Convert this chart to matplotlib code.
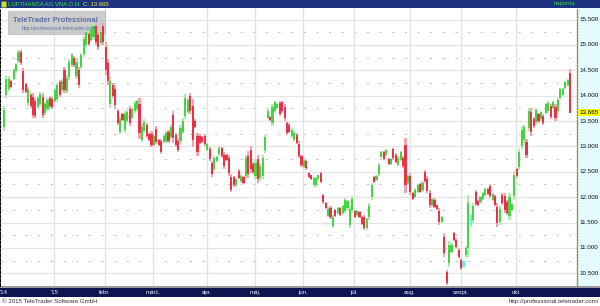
import numpy as np
import matplotlib
matplotlib.use('Agg')
import matplotlib.pyplot as plt
from matplotlib.patches import Rectangle
from matplotlib.transforms import blended_transform_factory

plt.rcParams['font.family'] = ['Liberation Sans', 'DejaVu Sans']

# daily candles, Dec 2014 - Oct 2015
opens = [13.38,14.02,14.14,14.28,14.33,14.48,14.68,14.86,14.48,14.22,
         13.86,14.01,13.98,13.90,13.78,13.84,13.98,13.66,13.73,13.96,
         13.94,13.89,13.93,14.26,14.11,14.50,14.10,14.36,14.61,14.75,
         14.39,14.51,14.57,14.83,15.00,15.21,15.09,15.15,15.37,15.20,
         15.04,15.37,14.96,14.64,13.84,14.21,14.13,13.69,13.29,13.63,
         13.33,13.50,13.74,13.56,13.69,13.73,13.84,13.13,13.31,13.42,
         13.25,13.25,13.03,13.35,13.12,13.10,13.09,13.10,13.29,13.18,
         13.61,13.23,13.10,13.10,13.29,13.60,13.68,13.99,13.79,13.51,
         13.20,13.21,13.18,13.20,12.92,12.94,12.67,12.56,12.71,12.85,
         12.96,12.83,12.83,12.78,12.40,12.39,12.23,12.52,12.31,12.40,
         12.42,12.82,12.92,12.66,12.41,12.76,12.37,12.42,12.92,13.56,
         13.58,13.46,13.69,13.75,13.86,13.87,13.78,13.46,13.43,13.20,
         13.13,13.23,13.05,12.81,12.60,12.71,12.48,12.43,12.23,12.23,
         12.35,12.47,12.04,11.88,11.63,11.79,11.44,11.75,11.68,11.78,
         11.68,11.73,11.78,11.45,11.74,11.73,11.64,11.70,11.60,11.61,
         11.39,11.60,12.00,12.39,12.33,12.45,12.79,12.89,12.83,12.75,
         12.66,12.94,12.84,12.64,12.74,12.78,13.02,12.28,12.42,12.09,
         12.01,12.10,12.25,12.14,12.50,12.36,12.09,11.84,11.95,11.84,
         11.73,11.51,11.22,10.52,10.70,10.92,11.29,11.16,10.96,10.77,
         10.62,10.86,11.00,11.46,11.55,12.10,11.93,11.90,11.97,12.04,
         12.16,12.21,11.94,12.02,11.81,11.51,12.05,12.02,11.91,11.63,
         11.74,12.03,12.55,12.60,13.01,13.12,13.09,13.37,13.68,13.54,
         13.48,13.63,13.53,13.60,13.66,13.70,13.79,13.75,13.78,13.70,
         13.96,14.01,14.15,14.21,14.45]
closes = [13.72,14.32,14.33,14.18,14.51,14.62,14.86,14.64,14.12,14.08,
          14.13,13.79,13.62,13.60,13.96,14.04,13.62,13.84,13.91,13.79,
          13.78,14.11,14.20,14.02,14.29,14.12,14.35,14.66,14.81,14.60,
          14.66,14.21,14.80,15.12,15.25,15.02,15.29,15.38,15.06,14.95,
          15.26,15.06,14.50,14.28,14.29,13.99,13.82,13.47,13.54,13.52,
          13.64,13.68,13.46,13.73,13.86,13.89,13.26,13.39,13.49,13.21,
          13.12,13.03,13.20,13.09,13.02,12.89,13.21,13.27,13.11,13.39,
          13.16,13.02,12.92,13.37,13.51,13.96,13.91,13.69,13.12,13.39,
          12.89,13.07,13.09,13.04,13.05,12.76,12.45,12.78,12.80,12.97,
          12.81,12.61,12.74,12.47,12.15,12.23,12.35,12.38,12.42,12.27,
          12.77,12.46,12.56,12.49,12.68,12.36,12.62,12.77,13.18,13.70,
          13.52,13.77,13.87,13.84,13.64,13.69,13.55,13.27,13.29,13.33,
          13.27,13.07,12.82,12.63,12.74,12.57,12.39,12.35,12.37,12.37,
          12.43,12.30,11.90,11.79,11.77,11.61,11.60,11.62,11.78,11.65,
          11.82,11.94,11.92,11.76,11.97,11.61,11.73,11.61,11.48,11.40,
          11.56,11.83,12.23,12.30,12.42,12.63,12.89,12.76,12.92,12.66,
          12.75,12.77,12.70,12.78,12.88,12.61,12.23,12.41,12.11,11.97,
          12.15,12.23,12.11,12.28,12.32,12.13,11.84,11.96,11.81,11.76,
          11.51,11.60,10.90,10.31,11.06,11.06,11.16,11.02,10.83,10.60,
          10.74,11.00,11.88,11.65,11.82,11.87,11.84,12.00,12.09,12.16,
          12.07,12.02,12.06,11.85,11.49,11.77,11.88,11.75,11.69,12.00,
          11.86,12.43,12.41,12.88,13.33,13.38,12.83,13.69,13.28,13.40,
          13.71,13.50,13.67,13.46,13.83,13.86,13.57,13.88,13.55,13.92,
          14.13,14.14,14.27,14.30,13.665]
highs = [13.80,14.39,14.38,14.30,14.55,14.65,14.90,14.90,14.55,14.25,
         14.18,14.05,14.05,13.95,14.00,14.08,14.05,13.88,13.95,14.00,
         13.98,14.15,14.25,14.30,14.33,14.57,14.40,14.72,14.85,14.78,
         14.72,14.57,14.85,15.18,15.30,15.25,15.33,15.43,15.43,15.25,
         15.30,15.43,15.05,14.72,14.38,14.25,14.20,13.73,13.59,13.65,
         13.70,13.72,13.80,13.76,13.90,13.92,13.96,13.44,13.53,13.46,
         13.27,13.30,13.24,13.40,13.14,13.14,13.24,13.30,13.33,13.43,
         13.70,13.27,13.14,13.43,13.56,14.03,13.96,14.05,13.93,13.53,
         13.27,13.24,13.20,13.24,13.07,12.98,12.72,12.82,12.82,13.00,
         12.99,12.88,12.85,12.84,12.45,12.42,12.38,12.55,12.45,12.42,
         12.84,12.90,13.00,12.70,12.74,12.84,12.67,12.84,13.23,13.73,
         13.60,13.83,13.90,13.86,13.90,13.90,13.83,13.50,13.46,13.36,
         13.30,13.26,13.10,12.84,12.77,12.74,12.50,12.44,12.40,12.40,
         12.44,12.50,12.07,11.90,11.80,11.83,11.64,11.77,11.80,11.80,
         11.85,11.98,11.95,11.82,12.02,11.75,11.75,11.72,11.62,11.65,
         11.59,11.88,12.28,12.41,12.44,12.67,12.91,12.91,12.94,12.77,
         12.77,12.97,12.87,12.81,12.91,12.81,13.17,12.44,12.48,12.11,
         12.18,12.25,12.28,12.31,12.54,12.41,12.15,11.98,11.98,11.85,
         11.78,11.62,11.29,10.57,11.13,11.09,11.32,11.19,10.99,10.80,
         10.76,11.03,12.05,11.69,11.88,12.15,11.95,12.02,12.11,12.18,
         12.18,12.25,12.08,12.05,11.88,11.82,12.08,12.08,11.95,12.08,
         11.88,12.51,12.58,12.94,13.40,13.43,13.14,13.76,13.76,13.57,
         13.76,13.66,13.70,13.63,13.86,13.90,13.83,13.90,13.83,13.96,
         14.16,14.16,14.29,14.32,14.52]
lows = [13.30,13.96,14.10,14.15,14.30,14.45,14.65,14.60,14.05,14.05,
        13.80,13.75,13.55,13.55,13.75,13.80,13.55,13.62,13.70,13.75,
        13.75,13.85,13.88,13.98,14.08,14.05,14.05,14.30,14.57,14.57,
        14.33,14.15,14.52,14.77,14.95,14.98,15.05,15.10,15.00,14.90,
        15.00,15.00,14.40,14.20,13.75,13.95,13.75,13.43,13.24,13.50,
        13.27,13.47,13.40,13.53,13.66,13.70,13.14,13.08,13.27,13.17,
        13.10,12.98,13.00,13.04,13.00,12.85,13.07,13.07,13.07,13.14,
        13.07,12.98,12.88,13.04,13.24,13.53,13.63,13.63,12.98,13.37,
        12.82,13.04,13.07,13.00,12.90,12.72,12.40,12.52,12.69,12.82,
        12.78,12.56,12.72,12.41,12.10,12.20,12.20,12.35,12.28,12.25,
        12.35,12.38,12.48,12.45,12.35,12.28,12.32,12.35,12.87,13.53,
        13.50,13.40,13.66,13.73,13.60,13.66,13.50,13.23,13.26,13.17,
        13.10,13.04,12.77,12.60,12.57,12.54,12.37,12.34,12.20,12.20,
        12.34,12.27,11.87,11.77,11.60,11.57,11.40,11.60,11.66,11.63,
        11.65,11.69,11.75,11.39,11.69,11.59,11.62,11.59,11.46,11.36,
        11.36,11.55,11.95,12.28,12.31,12.41,12.77,12.74,12.81,12.64,
        12.64,12.74,12.67,12.61,12.71,12.58,12.08,12.25,12.05,11.95,
        11.98,12.08,12.08,12.11,12.28,12.08,11.78,11.82,11.78,11.75,
        11.46,11.49,10.83,10.27,10.63,10.89,11.13,10.99,10.80,10.57,
        10.60,10.83,10.83,11.42,11.49,11.82,11.82,11.88,11.95,12.02,
        12.05,11.98,11.92,11.82,11.42,11.46,11.85,11.69,11.65,11.55,
        11.72,11.95,12.38,12.54,12.94,13.07,12.78,13.30,13.20,13.37,
        13.43,13.47,13.50,13.43,13.63,13.66,13.53,13.73,13.50,13.66,
        13.93,13.99,14.13,14.19,13.66]
cyan_bars = [190, 193]

month_labels = ["'14", "'15", 'febr.', 'márc.', 'ápr.', 'máj.', 'jún.',
                'júl.', 'aug.', 'szept.', 'okt.']
month_start = [0, 21, 42, 62, 84, 104, 124, 145, 168, 189, 212]
price_ticks = [10.5, 11.0, 11.5, 12.0, 12.5, 13.0, 13.5, 14.0, 14.5, 15.0, 15.5]
last_price = 13.665

W, H = 600, 306
fig = plt.figure(figsize=(W / 100, H / 100), dpi=100)


def fx(px):
    return px / W


def fy(py):
    return 1 - py / H


top_px, bot_px, split_px = 8, 286, 577
ax = fig.add_axes([0, fy(bot_px), fx(split_px), fy(top_px) - fy(bot_px)])
side = fig.add_axes([fx(split_px), fy(bot_px), fx(W - split_px), fy(top_px) - fy(bot_px)])

o = np.array(opens)
c = np.array(closes)
hi = np.array(highs)
lo = np.array(lows)
idx = np.arange(len(c))
up = c >= o
wick_col = np.where(up, '#aee9ae', '#f4a3ac').astype(object)
body_col = np.where(up, '#46d446', '#ea3247').astype(object)
for i in cyan_bars:
    wick_col[i] = '#c2f4f8'
    body_col[i] = '#72e3ef'

ax.bar(idx, hi - lo, bottom=lo, width=0.88, color=list(wick_col), linewidth=0, zorder=3)
ax.bar(idx, np.abs(c - o), bottom=np.minimum(o, c), width=0.88,
       color=list(body_col), linewidth=0, zorder=4)

ax.set_xlim(-1.65, 236.9)
ax.set_ylim(10.249, 15.727)
side.set_ylim(10.249, 15.727)

# grid
for v in price_ticks:
    ax.axhline(v, color='#e3e3e3', lw=0.9, zorder=1)
    ax.axhline(v - 0.25, color='#bcbcbc', lw=0.7, ls=(0, (2, 11)), zorder=1)
for m in month_start[1:]:
    ax.axvline(m - 0.2, color='#e3e3e3', lw=1.0, zorder=1)

ax.set_xticks([])
ax.set_yticks([])
for s in ['top', 'right', 'bottom']:
    ax.spines[s].set_visible(False)
ax.spines['left'].set_linestyle((0, (1, 1.2)))
ax.spines['left'].set_linewidth(1.4)
ax.spines['left'].set_color('black')

# watermark box
ax.add_patch(Rectangle((fx(8), fy(34)), fx(97), fy(11) - fy(34), transform=fig.transFigure,
                       facecolor='#c4c4c4', edgecolor='#b0b0b0', lw=0.5, alpha=0.85, zorder=2))
fig.text(fx(55), fy(20.5), 'TeleTrader Professional', ha='center', va='center',
         fontsize=5.4, fontweight='bold', color='#5d70a6')
fig.text(fx(59), fy(28.5), 'http://professional.teletrader.com', ha='center', va='center',
         fontsize=3.6, color='#5d70a6')

# right price panel
side.set_facecolor('#e4fbff')
side.set_xticks([])
side.set_yticks([])
for s in ['top', 'right', 'bottom']:
    side.spines[s].set_visible(False)
side.spines['left'].set_linestyle((0, (1, 1.2)))
side.spines['left'].set_color('#8f8f4a')
side.spines['left'].set_linewidth(1.0)
tr = blended_transform_factory(side.transAxes, side.transData)
for v in price_ticks:
    side.text(0.1, v, f'{v:.3f}', transform=tr, fontsize=4.5, va='center', ha='left',
              color='#111111')
side.text(0.1, last_price, f'{last_price:.3f}', transform=tr, fontsize=4.5, va='center',
          ha='left', color='black', zorder=5,
          bbox=dict(boxstyle='square,pad=0.2', facecolor='#ffff00', edgecolor='none'))

# header bar
fig.patches.append(Rectangle((0, fy(8)), 1, fy(0) - fy(8), transform=fig.transFigure,
                             facecolor='#1e3282', edgecolor='none', zorder=-2))
fig.patches.append(Rectangle((fx(1), fy(7)), fx(5), fy(1) - fy(7), transform=fig.transFigure,
                             facecolor='#c8e030', edgecolor='#6a8a10', lw=0.4, zorder=-1))
fig.text(fx(8), fy(4), 'LUFTHANSA AG VNA O.N.', fontsize=4.3, color='#36e836',
         va='center', ha='left')
fig.text(fx(83), fy(4), 'C: 13.665', fontsize=4.3, color='#f0f030', va='center', ha='left')
fig.text(fx(575), fy(4), 'naponta', fontsize=4.3, color='#36d836', va='center', ha='right')

# bottom time bar
fig.patches.append(Rectangle((0, fy(288)), 1, fy(286) - fy(288), transform=fig.transFigure,
                             facecolor='#9a9a9a', edgecolor='none', zorder=-2))
fig.patches.append(Rectangle((0, fy(297)), 1, fy(288) - fy(297), transform=fig.transFigure,
                             facecolor='#0d1550', edgecolor='none', zorder=-2))
trx = blended_transform_factory(ax.transData, fig.transFigure)
for lab, m in zip(month_labels, month_start):
    ax.text(m - 0.2, fy(292.5), lab, transform=trx, fontsize=4.4, color='#e8ecff',
            ha='center', va='center', clip_on=False, zorder=10)

fig.text(fx(2), fy(301.5), '© 2015 TeleTrader Software GmbH', fontsize=4.4,
         color='#333333', va='center', ha='left')
fig.text(fx(599), fy(301.5), 'http://professional.teletrader.com/', fontsize=4.4,
         color='#333333', va='center', ha='right')

fig.savefig('out.png', dpi=100)
